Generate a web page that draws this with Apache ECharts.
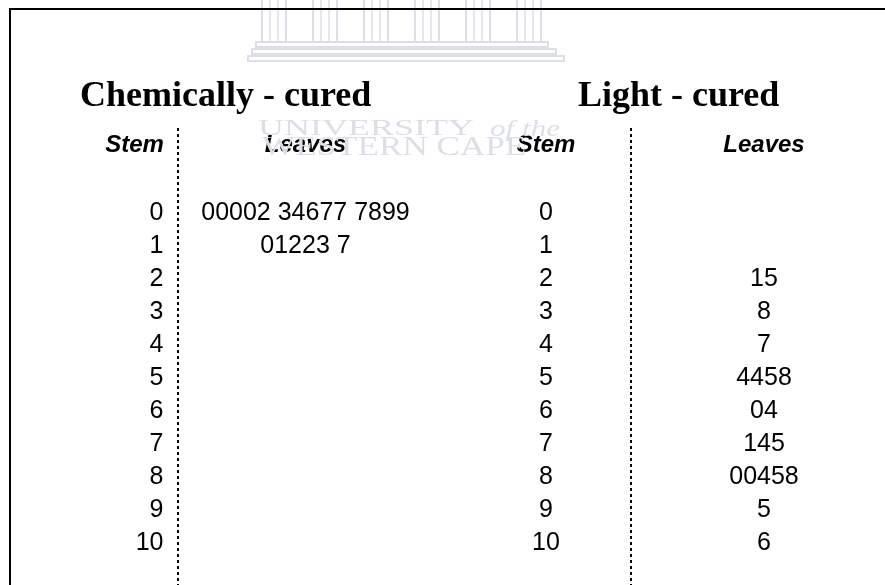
<!DOCTYPE html>
<html>
<head>
<meta charset="utf-8">
<script src="https://cdn.jsdelivr.net/npm/echarts@6/dist/echarts.min.js"></script>
<style>
  html, body { margin: 0; padding: 0; background: #fff; }
  #main { width: 885px; height: 585px; }
</style>
</head>
<body>
<div id="main"></div>
<script>
// stem-and-leaf data, one entry per stem
var stems = [0, 1, 2, 3, 4, 5, 6, 7, 8, 9, 10]
var chemLeaves = ['00002 34677 7899', '01223 7', '', '', '', '', '', '', '', '', '']
var lightLeaves = ['', '', '15', '8', '7', '4458', '04', '145', '00458', '5', '6']
var columns = ['Stem', 'Leaves']
var groupTitles = ['Chemically - cured', 'Light - cured']

var sans = '"Liberation Sans", Arial, sans-serif'
var serif = '"Liberation Serif", "Times New Roman", serif'
var faint = '#dcdfe7'

var chart = echarts.init(document.getElementById('main'))

function stemData () {
  return stems.map(function (s) { return { name: String(s), value: ['Stem', s] } })
}
function leafData (leaves) {
  return stems.map(function (s, i) { return { name: leaves[i], value: ['Leaves', s] } })
}
function xAxisFor (idx, shiftStem) {
  return {
    type: 'category',
    gridIndex: idx,
    data: columns,
    position: 'top',
    axisLine: { show: false },
    axisTick: { show: false },
    axisLabel: {
      interval: 0,
      margin: 56,
      formatter: function (v) { return v === 'Stem' && shiftStem ? '{s|' + v + '}' : '{h|' + v + '}' },
      rich: {
        h: { fontFamily: sans, fontSize: 24, fontWeight: 'bold', fontStyle: 'italic', color: '#000' },
        s: { fontFamily: sans, fontSize: 24, fontWeight: 'bold', fontStyle: 'italic', color: '#000', padding: [0, 36, 0, 0] }
      }
    }
  }
}
function yAxisFor (idx) {
  return { type: 'value', gridIndex: idx, inverse: true, min: 0, max: 10, show: false }
}
var labelStyle = {
  show: true, position: [0, 0], align: 'center', verticalAlign: 'middle',
  fontFamily: sans, fontSize: 25, color: '#000', textBorderWidth: 0, formatter: '{b}'
}
// scatter fades items to 0.8 by default, which greys the labels
var itemStyle = { opacity: 1 }

// faint watermark logo (columns + steps)
var logo = []
var colX = [262, 313, 364, 415, 466, 517]
colX.forEach(function (x) {
  logo.push({ type: 'rect', shape: { x: x, y: -2, width: 24, height: 44 }, style: { fill: null, stroke: faint, lineWidth: 2 } })
  logo.push({ type: 'line', shape: { x1: x + 8, y1: 0, x2: x + 8, y2: 42 }, style: { stroke: faint, lineWidth: 1.5 } })
  logo.push({ type: 'line', shape: { x1: x + 16, y1: 0, x2: x + 16, y2: 42 }, style: { stroke: faint, lineWidth: 1.5 } })
})
;[[256, 42, 548], [252, 49, 556], [248, 56, 564]].forEach(function (st) {
  logo.push({ type: 'rect', shape: { x: st[0], y: st[1], width: st[2] - st[0], height: 5 }, style: { fill: null, stroke: faint, lineWidth: 2 } })
})

var option = {
  animation: false,
  backgroundColor: '#fff',
  grid: [
    { left: 76, width: 306, top: 213, height: 330 },
    { left: 437, width: 436, top: 213, height: 330 }
  ],
  xAxis: [xAxisFor(0, true), xAxisFor(1, false)],
  yAxis: [yAxisFor(0), yAxisFor(1)],
  series: [
    { type: 'scatter', xAxisIndex: 0, yAxisIndex: 0, symbolSize: 0, itemStyle: itemStyle, data: stemData(),
      label: Object.assign({}, labelStyle, { align: 'right', offset: [11, 0] }) },
    { type: 'scatter', xAxisIndex: 0, yAxisIndex: 0, symbolSize: 0, itemStyle: itemStyle, data: leafData(chemLeaves), label: labelStyle },
    { type: 'scatter', xAxisIndex: 1, yAxisIndex: 1, symbolSize: 0, itemStyle: itemStyle, data: stemData(), label: labelStyle },
    { type: 'scatter', xAxisIndex: 1, yAxisIndex: 1, symbolSize: 0, itemStyle: itemStyle, data: leafData(lightLeaves), label: labelStyle }
  ],
  graphic: logo.concat([
    { type: 'text', x: 258, y: 129, z: 1, scaleX: 1.5,
      style: { text: 'UNIVERSITY', font: '24px ' + serif, fill: faint, textVerticalAlign: 'middle' } },
    { type: 'text', x: 490, y: 130, z: 1, scaleX: 1.3,
      style: { text: 'of the', font: 'italic 24px ' + serif, fill: faint, textVerticalAlign: 'middle' } },
    { type: 'text', x: 262, y: 148, z: 1, scaleX: 1.3,
      style: { text: 'WESTERN CAPE', font: '27px ' + serif, fill: faint, textVerticalAlign: 'middle' } },
    // titles
    { type: 'text', x: 80, y: 97, z: 5,
      style: { text: groupTitles[0], font: 'bold 36px ' + serif, fill: '#000', textVerticalAlign: 'middle' } },
    { type: 'text', x: 578, y: 97, z: 5,
      style: { text: groupTitles[1], font: 'bold 36px ' + serif, fill: '#000', textVerticalAlign: 'middle' } },
    // frame
    { type: 'line', shape: { x1: 9, y1: 9, x2: 885, y2: 9 }, style: { stroke: '#000', lineWidth: 2 } },
    { type: 'line', shape: { x1: 10, y1: 8, x2: 10, y2: 585 }, style: { stroke: '#000', lineWidth: 2 } },
    // dashed dividers
    { type: 'line', shape: { x1: 178, y1: 128, x2: 178, y2: 585 }, style: { stroke: '#000', lineWidth: 2, lineDash: [3, 3] } },
    { type: 'line', shape: { x1: 631, y1: 128, x2: 631, y2: 585 }, style: { stroke: '#000', lineWidth: 2, lineDash: [3, 3] } }
  ])
}
chart.setOption(option)
</script>
</body>
</html>
